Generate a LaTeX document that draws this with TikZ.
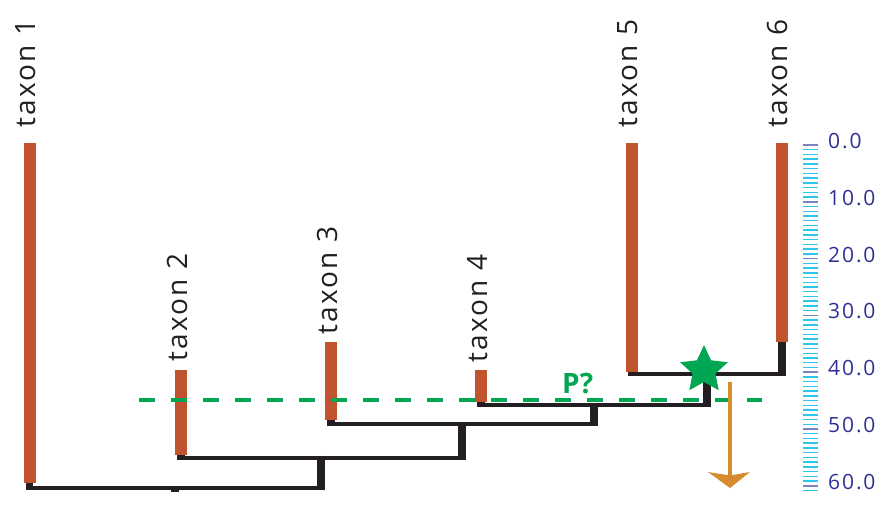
\documentclass[tikz,border=0pt]{standalone}
\usepackage{fontspec}
\setmainfont{Open Sans}
\newfontfamily\taxfont[LetterSpace=8]{Open Sans}
\newfontfamily\scalelabfont[LetterSpace=9]{Open Sans}
\definecolor{barorange}{HTML}{C1532F}
\definecolor{treeblack}{HTML}{231F20}
\definecolor{pgreen}{HTML}{00A651}
\definecolor{arroworange}{HTML}{D68B2E}
\definecolor{scaleblue}{HTML}{2E3192}
\definecolor{majtick}{HTML}{7F82C0}
\definecolor{mintick}{HTML}{2CC6F0}
\tikzset{
  taxlab/.style={anchor=base west, rotate=90, inner sep=0pt, text=treeblack,
    font=\taxfont\fontsize{28}{30}\selectfont},
  branchbar/.style={draw=barorange, line width=12pt},
  hline/.style={draw=treeblack, line width=4.5pt},
  vline/.style={draw=treeblack, line width=7.5pt},
  pline/.style={draw=pgreen, line width=3.5pt, dash pattern=on 16pt off 16pt},
  majortick/.style={draw=majtick, line width=1.5pt},
  minortick/.style={draw=mintick, line width=1.5pt},
  scalelab/.style={anchor=west, inner sep=0pt, text=scaleblue,
    font=\scalelabfont\fontsize{21}{23}\selectfont},
}
\begin{document}
\begin{tikzpicture}[x=1pt,y=-1pt]
\useasboundingbox (0,0) rectangle (892,506);
% bar tops and bottoms
\coordinate (a1) at (29.5,143); \coordinate (b1) at (29.5,483);
\coordinate (a2) at (181,370);  \coordinate (b2) at (181,455);
\coordinate (a3) at (331,342);  \coordinate (b3) at (331,420);
\coordinate (a4) at (481,370);  \coordinate (b4) at (481,402);
\coordinate (a5) at (632,143);  \coordinate (b5) at (632,372);
\coordinate (a6) at (782,143);  \coordinate (b6) at (782,342);
% internal nodes (junction points)
\coordinate (n5) at (707,374);
\coordinate (n4) at (594,405);
\coordinate (n3) at (462,424);
\coordinate (n2) at (321,458);
\coordinate (n1) at (321,488);
% black stubs below the bars
\draw[vline] (b1) -- (29.5,490.25);
\draw[vline] (b2) -- (181,460.25);
\draw[vline] (b3) -- (331,426.25);
\draw[vline] (b4) -- (481,407.25);
\draw[vline] (b5) -- (632,376.25);
\draw[vline] (b6) -- (782,376.25);
% horizontals
\draw[hline] (29.5,488) -- (n1);
\draw[hline] (181,458) -- (n3 |- n2);
\draw[hline] (331,424) -- (n4 |- n3);
\draw[hline] (481,405) -- (n5 |- n4);
\draw[hline] (632,374) -- (782,374);
% verticals at nodes
\draw[vline] (n2) ++(0,-2.25) -- (321,490.25);
\draw[vline] (n3) ++(0,-2.25) -- (462,460.25);
\draw[vline] (n4) ++(0,-2.25) -- (594,426.25);
\draw[vline] (n5) ++(0,-2.25) -- (707,407.25);
\fill[treeblack] (171,487) rectangle (179,492);
% orange bars
\foreach \k in {1,...,6} { \draw[branchbar] (a\k) -- (b\k); }
% taxon labels
\node[taxlab] (t1) at (35.5,128) {taxon 1};
\node[taxlab] (t2) at (187,362) {taxon 2};
\node[taxlab] (t3) at (337,335) {taxon 3};
\node[taxlab] (t4) at (487,363) {taxon 4};
\node[taxlab] (t5) at (637.5,128) {taxon 5};
\node[taxlab] (t6) at (787.5,128) {taxon 6};
% green dashed line
\coordinate (ps) at (139,400);
\coordinate (pe) at (762,400);
\draw[pline] (ps) -- (pe);
\node[anchor=base west, inner sep=0pt, text=pgreen,
  font=\fontsize{28}{30}\selectfont\bfseries] (plabel) at (562,393) {P?};
% star
\coordinate (star) at (704,370);
\fill[pgreen, shift={(star)}]
  (0,-25) -- (7.05,-9.71) -- (23.78,-7.73) -- (11.41,3.71) -- (14.69,20.23)
  -- (0,12) -- (-14.69,20.23) -- (-11.41,3.71) -- (-23.78,-7.73)
  -- (-7.05,-9.71) -- cycle;
% orange arrow
\coordinate (arrtop) at (730,382);
\coordinate (arrbase) at (730,476);
\draw[draw=arroworange, line width=4pt] (arrtop) -- (arrbase);
\fill[arroworange] (708,472) -- (730,475.5) -- (750,472) -- (730,488) -- cycle;
% scale
\foreach \i in {0,...,73} {
  \pgfmathsetmacro\yy{145+\i*4.7333}
  \pgfmathtruncatemacro\mm{mod(\i,12)}
  \ifnum\mm=0
    \draw[majortick] (803,\yy) -- (818,\yy);
  \else
    \draw[minortick] (803,\yy) -- (818,\yy);
  \fi
}
\foreach \v [count=\j from 0] in {0.0,10.0,20.0,30.0,40.0,50.0,60.0} {
  \node[scalelab] (s\j) at (828,{145+\j*56.8-4}) {\v};
}
\end{tikzpicture}
\end{document}
